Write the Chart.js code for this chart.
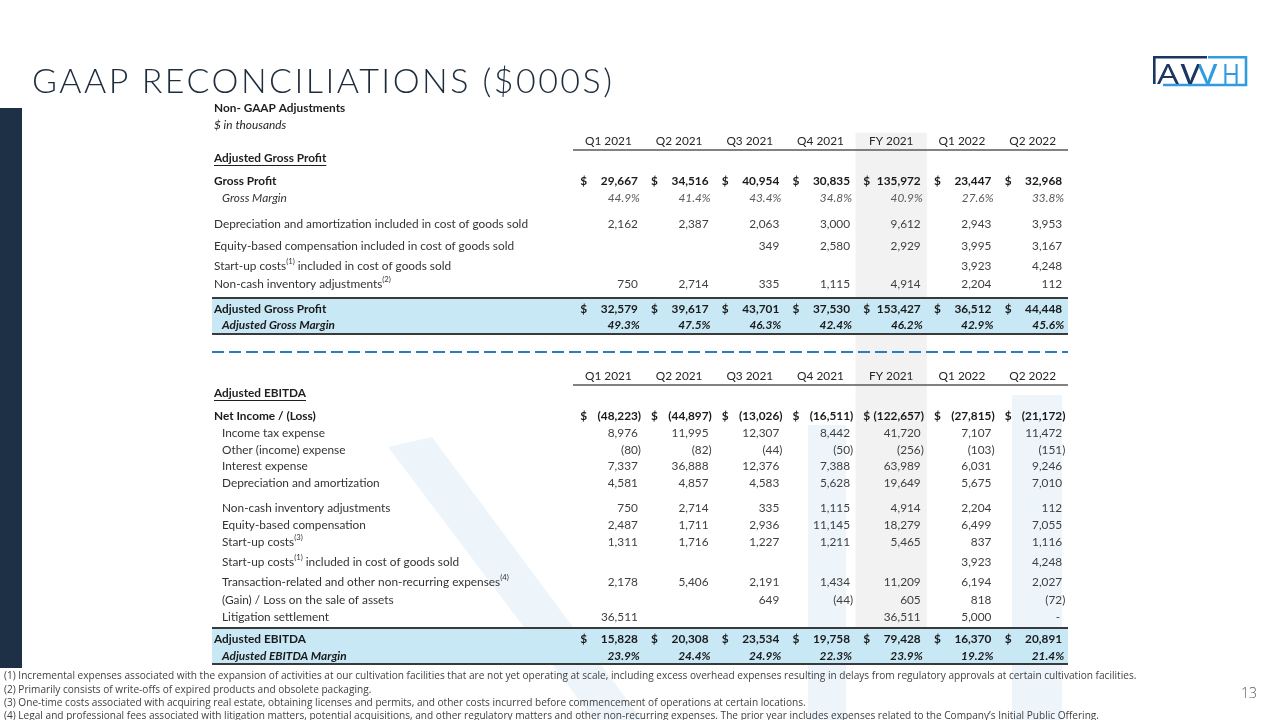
<!DOCTYPE html>
<html>
<head>
<meta charset="utf-8">
<title>GAAP Reconciliations</title>
<script src="https://cdn.jsdelivr.net/npm/chart.js@4.4.1/dist/chart.umd.min.js"></script>
<style>
  html, body { margin:0; padding:0; background:#ffffff; }
  #page { position:relative; width:1280px; height:720px; overflow:hidden; background:#ffffff; }
  #sidebar { position:absolute; left:0; top:108px; width:22px; height:560px; background:#1d3045; }
  #chart { position:absolute; left:0; top:0; }
  #title { position:absolute; left:32px; top:58px; font-family:Lato, 'Open Sans', sans-serif; font-weight:300; font-size:34px; line-height:44px; color:#1e2d3d; white-space:nowrap; }
  .fn { position:absolute; left:4px; font-family:'Open Sans', sans-serif; font-size:9.5px; line-height:12px; color:#3f3f3f; white-space:nowrap; }
  #pagenum { position:absolute; left:1241px; top:683px; font-family:'Open Sans', sans-serif; font-weight:300; font-size:14px; line-height:20px; color:#595959; }
  #logo { position:absolute; left:1148px; top:52px; }
</style>
</head>
<body>
<div id="page">
  <div id="sidebar"></div>
  <canvas id="chart" width="1280" height="720"></canvas>
  <div id="title">GAAP RECONCILIATIONS ($000S)</div>
  <svg id="logo" width="104" height="40" viewBox="1148 52 104 40">
    <defs>
      <linearGradient id="wg" x1="1180" x2="1219" y1="0" y2="0" gradientUnits="userSpaceOnUse">
        <stop offset="0.5" stop-color="#1b3660"/>
        <stop offset="0.5" stop-color="#2f9be0"/>
      </linearGradient>
    </defs>
    <polyline points="1207,57.3 1154.3,57.3 1154.3,84" fill="none" stroke="#1b3660" stroke-width="2.6"/>
    <polyline points="1208,57.3 1246,57.3 1246,85 1163,85" fill="none" stroke="#2f9be0" stroke-width="2.6"/>
    <text x="1157" y="83.5" font-family="'Open Sans', sans-serif" font-weight="400" font-size="27" fill="#1b3660" textLength="22" lengthAdjust="spacingAndGlyphs">A</text>
    <text x="1180" y="83.5" font-family="'Open Sans', sans-serif" font-weight="400" font-size="27" fill="url(#wg)" textLength="38" lengthAdjust="spacingAndGlyphs">W</text>
    <text x="1222" y="83.5" font-family="'Open Sans', sans-serif" font-weight="400" font-size="27" fill="#2f9be0" textLength="18" lengthAdjust="spacingAndGlyphs">H</text>
  </svg>
  <div class="fn" id="fn1" style="top:669px">(1) Incremental expenses associated with the expansion of activities at our cultivation facilities that are not yet operating at scale, including excess overhead expenses resulting in delays from regulatory approvals at certain cultivation facilities.</div>
  <div class="fn" id="fn2" style="top:683px">(2) Primarily consists of write-offs of expired products and obsolete packaging.</div>
  <div class="fn" id="fn3" style="top:696px">(3) One-time costs associated with acquiring real estate, obtaining licenses and permits, and other costs incurred before commencement of operations at certain locations.</div>
  <div class="fn" id="fn4" style="top:709px">(4) Legal and professional fees associated with litigation matters, potential acquisitions, and other regulatory matters and other non-recurring expenses. The prior year includes expenses related to the Company’s Initial Public Offering.</div>
  <div id="pagenum">13</div>
</div>
<script>
// ---------------- DATA ----------------
const columns = ['Q1 2021', 'Q2 2021', 'Q3 2021', 'Q4 2021', 'FY 2021', 'Q1 2022', 'Q2 2022'];
const fullYearColumn = 'FY 2021';

// Adjusted Gross Profit section
const grossProfit      = [29667, 34516, 40954, 30835, 135972, 23447, 32968];
const grossMargin      = [44.9, 41.4, 43.4, 34.8, 40.9, 27.6, 33.8];
const daInCogs         = [2162, 2387, 2063, 3000, 9612, 2943, 3953];
const equityCompInCogs = [null, null, 349, 2580, 2929, 3995, 3167];
const startupInCogs    = [null, null, null, null, null, 3923, 4248];
const nonCashInventory = [750, 2714, 335, 1115, 4914, 2204, 112];
const adjGrossProfit   = [32579, 39617, 43701, 37530, 153427, 36512, 44448];
const adjGrossMargin   = [49.3, 47.5, 46.3, 42.4, 46.2, 42.9, 45.6];

// Adjusted EBITDA section
const netIncome        = [-48223, -44897, -13026, -16511, -122657, -27815, -21172];
const incomeTax        = [8976, 11995, 12307, 8442, 41720, 7107, 11472];
const otherIncome      = [-80, -82, -44, -50, -256, -103, -151];
const interestExpense  = [7337, 36888, 12376, 7388, 63989, 6031, 9246];
const depAmort         = [4581, 4857, 4583, 5628, 19649, 5675, 7010];
const nonCashInv2      = [750, 2714, 335, 1115, 4914, 2204, 112];
const equityComp       = [2487, 1711, 2936, 11145, 18279, 6499, 7055];
const startupCosts     = [1311, 1716, 1227, 1211, 5465, 837, 1116];
const startupInCogs2   = [null, null, null, null, null, 3923, 4248];
const transactionExp   = [2178, 5406, 2191, 1434, 11209, 6194, 2027];
const gainLossAssets   = [null, null, 649, -44, 605, 818, -72];
const litigation       = [36511, null, null, null, 36511, 5000, 0];
const adjEbitda        = [15828, 20308, 23534, 19758, 79428, 16370, 20891];
const adjEbitdaMargin  = [23.9, 24.4, 24.9, 22.3, 23.9, 19.2, 21.4];

// Table structure (text + which series it shows)
const rows = [
  {key:'cap1', type:'caption', label:'Non- GAAP Adjustments', bold:true},
  {key:'cap2', type:'caption', label:'$ in thousands', italic:true},
  {key:'hdr1', type:'header'},
  {key:'sec1', type:'section', label:'Adjusted Gross Profit'},
  {key:'gp',   label:'Gross Profit', values:grossProfit, bold:true, dollar:true},
  {key:'gm',   label:'Gross Margin', values:grossMargin, italic:true, pct:true, indent:true, muted:true},
  {key:'dac',  label:'Depreciation and amortization included in cost of goods sold', values:daInCogs},
  {key:'ecc',  label:'Equity-based compensation included in cost of goods sold', values:equityCompInCogs},
  {key:'suc',  label:'Start-up costs^(1)^ included in cost of goods sold', values:startupInCogs},
  {key:'nci',  label:'Non-cash inventory adjustments^(2)^', values:nonCashInventory},
  {key:'agp',  label:'Adjusted Gross Profit', values:adjGrossProfit, bold:true, dollar:true},
  {key:'agm',  label:'Adjusted Gross Margin', values:adjGrossMargin, bold:true, italic:true, pct:true, indent:true},
  {key:'dash', type:'divider'},
  {key:'hdr2', type:'header'},
  {key:'sec2', type:'section', label:'Adjusted EBITDA'},
  {key:'ni',   label:'Net Income / (Loss)', values:netIncome, bold:true, dollar:true},
  {key:'tax',  label:'Income tax expense', values:incomeTax, indent:true},
  {key:'oth',  label:'Other (income) expense', values:otherIncome, indent:true},
  {key:'int',  label:'Interest expense', values:interestExpense, indent:true},
  {key:'da',   label:'Depreciation and amortization', values:depAmort, indent:true},
  {key:'nci2', label:'Non-cash inventory adjustments', values:nonCashInv2, indent:true},
  {key:'eq2',  label:'Equity-based compensation', values:equityComp, indent:true},
  {key:'su2',  label:'Start-up costs^(3)^', values:startupCosts, indent:true},
  {key:'suc2', label:'Start-up costs^(1)^ included in cost of goods sold', values:startupInCogs2, indent:true},
  {key:'trx',  label:'Transaction-related and other non-recurring expenses^(4)^', values:transactionExp, indent:true},
  {key:'gain', label:'(Gain) / Loss on the sale of assets', values:gainLossAssets, indent:true},
  {key:'lit',  label:'Litigation settlement', values:litigation, indent:true},
  {key:'ae',   label:'Adjusted EBITDA', values:adjEbitda, bold:true, dollar:true},
  {key:'aem',  label:'Adjusted EBITDA Margin', values:adjEbitdaMargin, bold:true, italic:true, pct:true, indent:true}
];

// ---------------- LAYOUT (row positions in y-scale units) ----------------
const rowY = {cap1:10, cap2:27, hdr1:43, sec1:60, gp:83, gm:100, dac:126, ecc:148, suc:168, nci:186,
  agp:211, agm:227, dash:254, hdr2:278, sec2:295, ni:318, tax:335, oth:352, int:368, da:385,
  nci2:410, eq2:427, su2:444, suc2:464, trx:484, gain:502, lit:519, ae:541, aem:558};
const bandSpans = [[200, 236], [530, 566]];
const shadeSpan = [35, 567];
// faint background watermark shapes (decoration, page pixels)
const watermark = [
  [[388, 447], [432, 437], [642, 720], [594, 720]],
  [[808, 425], [846, 425], [846, 720], [808, 720]],
  [[1012, 395], [1062, 395], [1062, 720], [1012, 720]]
];
const LABEL_X = 214, INDENT_X = 222, TABLE_LEFT = 212;
const BASE = 11.5;
const FAMILY = 'Lato, "Open Sans", sans-serif';
let SX = 1;

function setFont(ctx, o, size) {
  ctx.font = (o.italic ? 'italic ' : '') + (o.bold ? 'bold ' : '') + (size || BASE) + 'px ' + FAMILY;
}
function txt(ctx, s, x, y, align) {
  ctx.save(); ctx.translate(x, y); ctx.scale(SX, 1);
  ctx.textAlign = align || 'left'; ctx.textBaseline = 'middle';
  ctx.fillText(s, 0, 0); ctx.restore();
}
function tw(ctx, s) { return ctx.measureText(s).width * SX; }
function drawLabel(ctx, label, x, y, o) {
  const parts = label.split('^');
  let cx = x;
  parts.forEach((p, i) => {
    if (!p) return;
    if (i % 2 === 1) { setFont(ctx, o, 7.5); txt(ctx, p, cx, y - 4); cx += tw(ctx, p); }
    else { setFont(ctx, o); txt(ctx, p, cx, y); cx += tw(ctx, p); }
  });
  return cx;
}
function fmt(v) { return Math.abs(v).toLocaleString('en-US'); }

const tablePlugin = {
  id: 'tableText',
  beforeDatasetsDraw(chart) {
    const ctx = chart.ctx;
    ctx.save();
    ctx.fillStyle = '#edf5fb';
    watermark.forEach(poly => {
      ctx.beginPath();
      poly.forEach(([x, y], i) => i ? ctx.lineTo(x, y) : ctx.moveTo(x, y));
      ctx.closePath(); ctx.fill();
    });
    ctx.restore();
  },
  afterDatasetsDraw(chart) {
    const ctx = chart.ctx, xs = chart.scales.x, ys = chart.scales.y, area = chart.chartArea;
    ctx.save();
    ctx.font = BASE + 'px ' + FAMILY;
    SX = 314 / ctx.measureText('Depreciation and amortization included in cost of goods sold').width;

    // highlighted total bands
    bandSpans.forEach(([a, b]) => {
      const y0 = ys.getPixelForValue(a), y1 = ys.getPixelForValue(b);
      ctx.fillStyle = '#c9e8f5';
      ctx.fillRect(TABLE_LEFT, y0, area.right - TABLE_LEFT, y1 - y0);
      ctx.strokeStyle = '#3a3a3a'; ctx.lineWidth = 2;
      ctx.beginPath();
      ctx.moveTo(TABLE_LEFT, y0); ctx.lineTo(area.right, y0);
      ctx.moveTo(TABLE_LEFT, y1); ctx.lineTo(area.right, y1);
      ctx.stroke();
    });

    rows.forEach(row => {
      const y = ys.getPixelForValue(rowY[row.key]);
      if (row.type === 'divider') {
        ctx.save();
        ctx.strokeStyle = '#2f78c4'; ctx.lineWidth = 2.2; ctx.setLineDash([12, 5]);
        ctx.beginPath(); ctx.moveTo(TABLE_LEFT, y); ctx.lineTo(area.right, y); ctx.stroke();
        ctx.restore();
        return;
      }
      if (row.type === 'header') {
        setFont(ctx, {});
        ctx.fillStyle = '#262626';
        columns.forEach((c, i) => txt(ctx, c, xs.getPixelForValue(i), y, 'center'));
        ctx.strokeStyle = '#595959'; ctx.lineWidth = 1.5;
        ctx.beginPath(); ctx.moveTo(area.left, y + 9); ctx.lineTo(area.right, y + 9); ctx.stroke();
        return;
      }
      if (row.type === 'caption') {
        ctx.fillStyle = '#1f1f1f';
        drawLabel(ctx, row.label, LABEL_X, y, row);
        return;
      }
      if (row.type === 'section') {
        ctx.fillStyle = '#1f1f1f';
        const o = {bold: true};
        const end = drawLabel(ctx, row.label, LABEL_X, y, o);
        ctx.strokeStyle = '#1f1f1f'; ctx.lineWidth = 1;
        ctx.beginPath(); ctx.moveTo(LABEL_X, y + 7.5); ctx.lineTo(end, y + 7.5); ctx.stroke();
        return;
      }
      // data row
      ctx.fillStyle = row.bold ? '#1a1a1a' : '#333333';
      drawLabel(ctx, row.label, row.indent ? INDENT_X : LABEL_X, y, row);
      const o = {bold: row.bold, italic: row.italic};
      row.values.forEach((v, i) => {
        if (v === null || v === undefined) return;
        const xc = xs.getPixelForValue(i);
        const R = xc + 29.5;
        setFont(ctx, o);
        ctx.fillStyle = row.muted ? '#5a5a5a' : (row.bold ? '#1a1a1a' : '#404040');
        const pw = tw(ctx, ')');
        if (row.pct) txt(ctx, v.toFixed(1) + '%', R + 2, y, 'right');
        else if (v === 0) txt(ctx, '-', R - 2, y, 'right');
        else if (v < 0) txt(ctx, '(' + fmt(v) + ')', R + pw, y, 'right');
        else txt(ctx, fmt(v), R, y, 'right');
        if (row.dollar) txt(ctx, '$', xc - 28, y, 'left');
      });
    });
    ctx.restore();
  }
};

const shadeData = columns.map(c => c === fullYearColumn ? shadeSpan : null);

new Chart(document.getElementById('chart'), {
  type: 'bar',
  data: {
    labels: columns,
    datasets: [{
      label: 'Full-year column',
      data: shadeData,
      backgroundColor: '#f2f2f2',
      borderWidth: 0,
      barPercentage: 1,
      categoryPercentage: 1
    }]
  },
  options: {
    responsive: false,
    maintainAspectRatio: false,
    animation: false,
    devicePixelRatio: 1,
    events: [],
    layout: { padding: { left: 573, right: 212, top: 98, bottom: 52 } },
    scales: {
      x: { type: 'category', display: false, offset: true, grid: { display: false } },
      y: { type: 'linear', display: false, reverse: true, min: 0, max: 570 }
    },
    plugins: { legend: { display: false }, tooltip: { enabled: false }, title: { display: false } }
  },
  plugins: [tablePlugin]
});

// fit title and footnotes to the reference widths
(function fitText() {
  const t = document.getElementById('title');
  const n = t.textContent.length;
  const w = t.getBoundingClientRect().width;
  t.style.letterSpacing = ((580 - w) / (n - 1)) + 'px';
  const f1 = document.getElementById('fn1');
  const fw = f1.getBoundingClientRect().width;
  const size = 9.5 * 1134 / fw;
  document.querySelectorAll('.fn').forEach(el => el.style.fontSize = size + 'px');
})();
</script>
</body>
</html>
